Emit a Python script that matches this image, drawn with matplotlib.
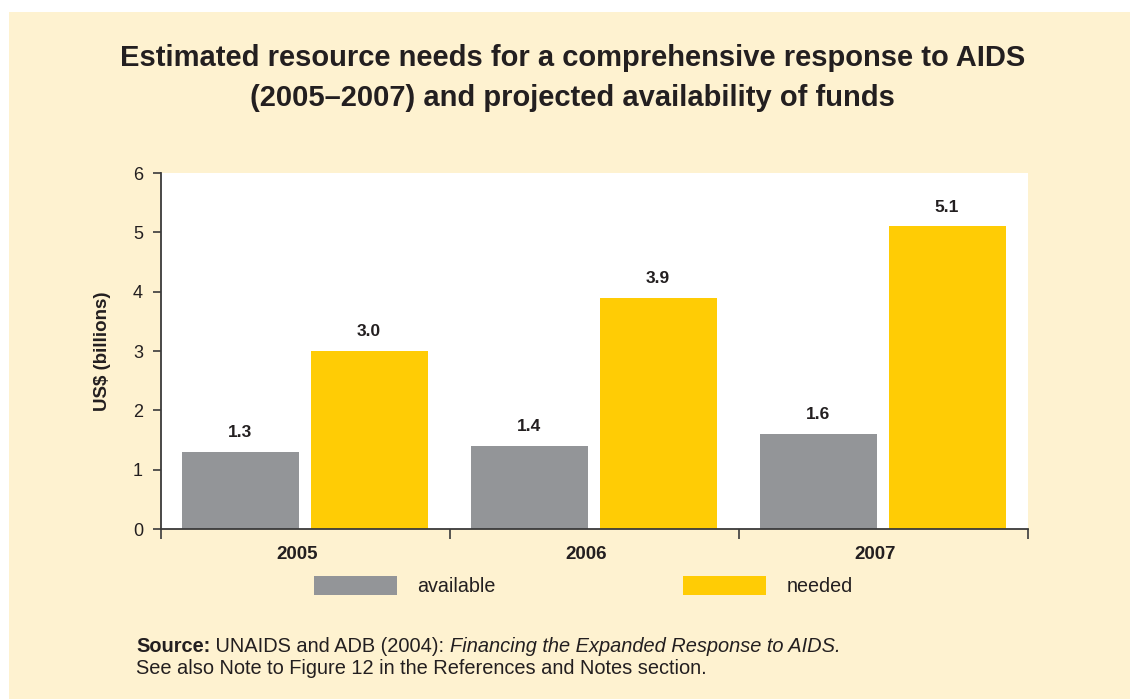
import matplotlib.pyplot as plt
import numpy as np
from matplotlib.patches import Rectangle

plt.rcParams['font.family'] = ['Liberation Sans', 'DejaVu Sans']

years = ['2005', '2006', '2007']
available = [1.3, 1.4, 1.6]
needed = [3.0, 3.9, 5.1]
series_names = ['available', 'needed']

grey = '#939598'
yellow = '#FFCC05'
ink = '#231F20'
cream = '#FEF2D0'

fig = plt.figure(figsize=(11.3, 6.99), dpi=100, facecolor='white')
# cream panel behind everything
fig.patches.append(Rectangle((9 / 1130, 0), 1, 1 - 12 / 699, transform=fig.transFigure,
                             facecolor=cream, edgecolor='none', zorder=-10))

ax = fig.add_axes([161 / 1130, 1 - 529 / 699, 867 / 1130, 356 / 699])
ax.set_facecolor('white')

x = np.arange(len(years))
w = 0.405
b1 = ax.bar(x - 0.225, available, w, color=grey, label=series_names[0])
b2 = ax.bar(x + 0.22, needed, w, color=yellow, label=series_names[1])

for bars, vals in ((b1, available), (b2, needed)):
    for r, v in zip(bars, vals):
        ax.text(r.get_x() + r.get_width() / 2, v + 0.2, f'{v:.1f}', ha='center', va='bottom',
                fontsize=12.5, fontweight='bold', color=ink)

ax.set_xlim(-0.5, 2.5)
ax.set_ylim(0, 6)
ax.set_yticks(range(7))
ax.tick_params(axis='y', direction='out', length=6, width=1.2, color='#3a3a3a', pad=7,
               labelsize=13, labelcolor=ink)

# year boundaries as major ticks, labels on minor ticks
ax.set_xticks([-0.5, 0.5, 1.5, 2.5])
ax.set_xticklabels([])
ax.tick_params(axis='x', which='major', direction='out', length=7, width=1.2, color='#3a3a3a')
ax.set_xticks(x - 0.03, minor=True)
ax.set_xticklabels(years, minor=True, fontsize=13.5, fontweight='bold', color=ink)
ax.tick_params(axis='x', which='minor', length=0, pad=12)

for s in ('top', 'right'):
    ax.spines[s].set_visible(False)
for s in ('left', 'bottom'):
    ax.spines[s].set_color('#3a3a3a')
    ax.spines[s].set_linewidth(1.3)

ax.set_ylabel('US$ (billions)', fontsize=13.5, fontweight='bold', color=ink, labelpad=16)

fig.text(0.507, 1 - 58 / 699, 'Estimated resource needs for a comprehensive response to AIDS',
         ha='center', va='center', fontsize=21, fontweight='bold', color=ink)
fig.text(0.507, 1 - 98 / 699, '(2005\u20132007) and projected availability of funds',
         ha='center', va='center', fontsize=21, fontweight='bold', color=ink)

fig.legend(handles=[b1, b2], loc='center left', bbox_to_anchor=(314 / 1130, 1 - 586 / 699),
           ncol=2, frameon=False, fontsize=14.2, handlelength=4.2, handleheight=1.1,
           handletextpad=1.05, columnspacing=9.5, borderpad=0, borderaxespad=0,
           labelcolor=ink)

t1 = fig.text(136 / 1130, 1 - 652 / 699, 'Source:', fontsize=14.4, fontweight='bold', color=ink,
              va='baseline')
t2 = ax.annotate(' UNAIDS and ADB (2004): ', xy=(1, 0), xycoords=t1, fontsize=14.4, color=ink,
                 va='bottom', annotation_clip=False)
t3 = ax.annotate('Financing the Expanded Response to AIDS.', xy=(1, 0), xycoords=t2, fontsize=14.4,
                 color=ink, style='italic', va='bottom', annotation_clip=False)
fig.text(136 / 1130, 1 - 674 / 699, 'See also Note to Figure 12 in the References and Notes section.',
         fontsize=14.4, color=ink, va='baseline')

fig.savefig('out.png', dpi=100, facecolor='white')
